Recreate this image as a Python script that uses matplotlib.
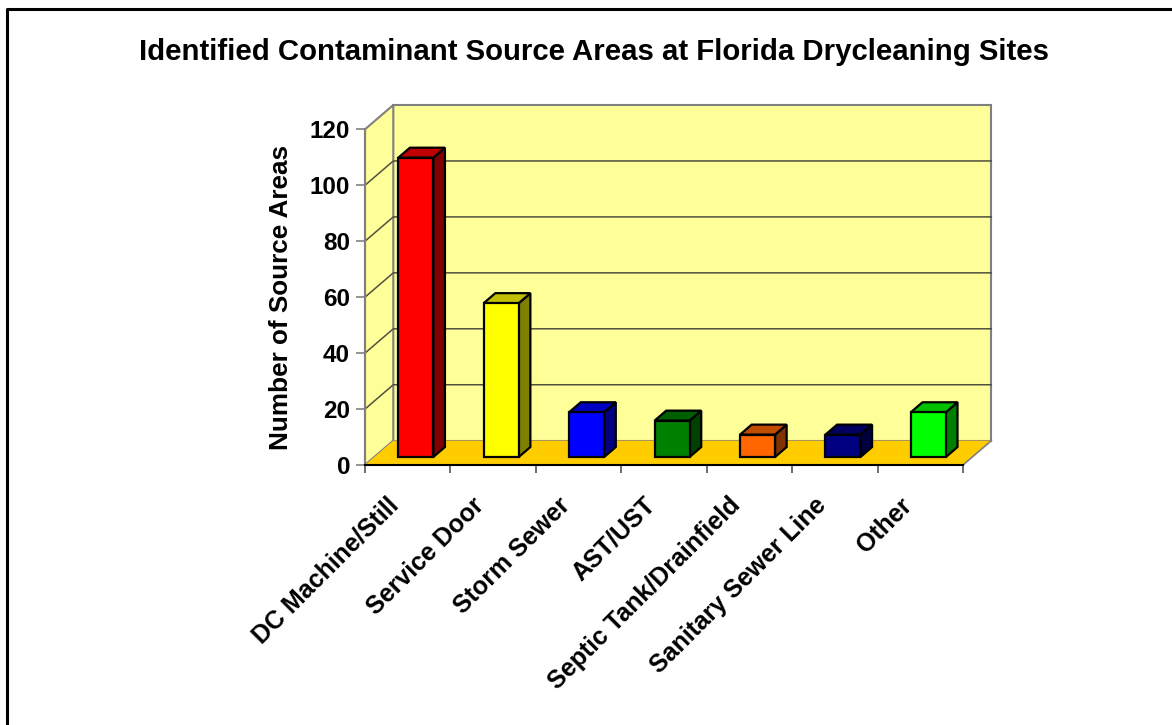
"""
Identified contaminant source areas at Florida drycleaning sites,
drawn as an Excel-style 3D column chart (oblique projection).
"""

import matplotlib
matplotlib.use("Agg")
import matplotlib.pyplot as plt
from matplotlib.patches import Polygon, Rectangle

plt.rcParams["font.family"] = ["Liberation Sans", "DejaVu Sans"]
plt.rcParams["font.weight"] = "bold"

TITLE = "Identified Contaminant Source Areas at Florida Drycleaning Sites"
Y_LABEL = "Number of Source Areas"

categories = ["DC Machine/Still", "Service Door", "Storm Sewer", "AST/UST",
              "Septic Tank/Drainfield", "Sanitary Sewer Line", "Other"]
counts = [107, 55, 16, 13, 8, 8, 16]
y_ticks = [0, 20, 40, 60, 80, 100, 120]

# front / side / top shades of each column
front_colors = ["#FF0000", "#FFFF00", "#0000FF", "#008000", "#FF6600", "#000080", "#00FF00"]
side_colors = ["#800000", "#808000", "#000080", "#004000", "#803300", "#000040", "#008000"]
top_colors = ["#C00000", "#C0C000", "#0000C0", "#006000", "#C04C00", "#000060", "#00C000"]

WALL = "#FFFF99"
FLOOR = "#FFCC00"
EDGE = "#808080"
GRID = "#505040"

W, H = 1172, 725
fig = plt.figure(figsize=(W / 100, H / 100), dpi=100)

# axes = the front plane of the box (x: category units, y: value units)
x0_px, x1_px, y0_px, y1_px = 365, 963, 465, 129.3
ax = fig.add_axes([x0_px / W, 1 - y0_px / H, (x1_px - x0_px) / W, (y0_px - y1_px) / H])
n = len(categories)
ymax = 120
ax.set_xlim(0, n)
ax.set_ylim(0, ymax)
ax.patch.set_visible(False)

# depth offset of the full box, in data units
px_per_cat = (x1_px - x0_px) / n
px_per_val = (y0_px - y1_px) / ymax
DX = 28.3 / px_per_cat
DY = 24.3 / px_per_val


def poly(pts, fc, ec, lw=1.2, z=1):
    ax.add_patch(Polygon(pts, closed=True, facecolor=fc, edgecolor=ec,
                         linewidth=lw, zorder=z, clip_on=False, joinstyle="miter"))


# back wall, left wall, floor
poly([(DX, DY), (n + DX, DY), (n + DX, ymax + DY), (DX, ymax + DY)], WALL, EDGE, 1.5)
poly([(0, 0), (DX, DY), (DX, ymax + DY), (0, ymax)], WALL, EDGE, 1.5)
poly([(0, 0), (n, 0), (n + DX, DY), (DX, DY)], FLOOR, "none", 0)
ax.plot([n, n + DX], [0, DY], color=EDGE, lw=1.2, zorder=2, clip_on=False)

# gridlines on both walls
for v in y_ticks[1:-1]:
    ax.plot([0, DX, n + DX], [v, v + DY, v + DY], color=GRID, lw=1.1,
            zorder=2, clip_on=False)

# columns
D0, D1 = 0.33, 0.74
bw = 0.41
for i, (val, fc, sc, tc) in enumerate(zip(counts, front_colors, side_colors, top_colors)):
    left = i + 0.39
    right = left + bw
    b0, t0 = D0 * DY, val + D0 * DY
    ddx, ddy = (D1 - D0) * DX, (D1 - D0) * DY
    poly([(right, b0), (right + ddx, b0 + ddy), (right + ddx, t0 + ddy), (right, t0)],
         sc, "black", 1.6, 5)
    poly([(left, t0), (right, t0), (right + ddx, t0 + ddy), (left + ddx, t0 + ddy)],
         tc, "black", 1.6, 5)
    ax.add_patch(Rectangle((left, b0), bw, val, facecolor=fc, edgecolor="black",
                           linewidth=1.6, zorder=6, clip_on=False, joinstyle="miter"))

# axes lines and ticks
for s in ["top", "right"]:
    ax.spines[s].set_visible(False)
ax.spines["left"].set_color(EDGE)
ax.spines["left"].set_linewidth(1.5)
ax.spines["bottom"].set_color("black")
ax.spines["bottom"].set_linewidth(1.5)
ax.spines["bottom"].set_zorder(3)

ax.set_yticks(y_ticks)
ax.set_yticklabels([str(v) for v in y_ticks], fontsize=17.5, fontweight="bold")
ax.tick_params(axis="y", length=6.5, width=1.2, color=EDGE, pad=4.3)
ax.set_xticks(range(n + 1))
ax.set_xticklabels([])
ax.tick_params(axis="x", length=6, width=1.2, color="#555555")

for i, name in enumerate(categories):
    ax.annotate(name, xy=(i + 0.5, 0), xytext=(-4, -28), textcoords="offset pixels",
                rotation=45, ha="right", va="top", fontsize=18, fontweight="bold",
                annotation_clip=False)

fig.text(281 / W, 1 - 297.5 / H, Y_LABEL, rotation=90, ha="center", va="center",
         fontsize=18.8, fontweight="bold")
fig.text(594 / W, 1 - 52 / H, TITLE, ha="center", va="center",
         fontsize=21.2, fontweight="bold")

# chart-area border (only top and left edges are inside the picture)
fig.add_artist(plt.Line2D([7 / W, 7 / W, 1.0], [0.0, 1 - 9 / H, 1 - 9 / H],
                          transform=fig.transFigure, color="black", lw=2.2))

fig.savefig("out.png", dpi=100, facecolor="white")
